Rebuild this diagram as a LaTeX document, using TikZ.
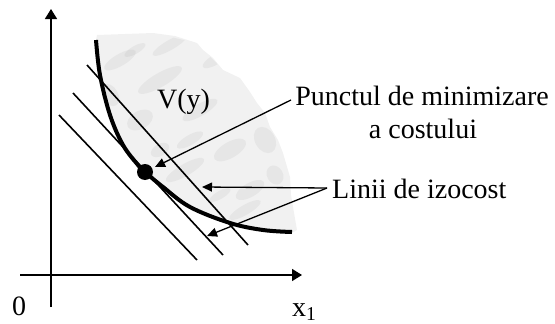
\documentclass[tikz,border=0pt]{standalone}
\usepackage{fontspec}
\setmainfont{Liberation Serif}
\usetikzlibrary{arrows.meta}
\begin{document}
\begin{tikzpicture}[x=1pt,y=-1pt,
  axis/.style={line width=1.5pt,-{Triangle[length=10pt,width=12pt]}},
  iso/.style={line width=1.6pt},
  note/.style={line width=1.3pt,-{Triangle[length=10pt,width=9pt]}},
  lbl/.style={inner sep=0pt,font=\fontsize{28}{33}\selectfont}]
\useasboundingbox (0,0) rectangle (555,324);
% region V(y)
\path[fill=gray!11] (96,40) -- (97,35) -- (125,34) -- (153,33) -- (175,36) -- (197,43) -- (203,50)
  -- (213,58) -- (223,70) -- (240,78) -- (250,92) -- (257,103) -- (265,113) -- (270,127) -- (278,140)
  -- (283,153) -- (290,177) -- (291,195) -- (293,207) -- (297,230) -- (292,233)
  -- (263,230) -- (230,223) -- (190,207) -- (163,187) -- (145,172) -- (138,165) -- (123,145)
  -- (110,115) -- (100,75) -- cycle;
\begin{scope}
\clip (96,40) -- (97,35) -- (153,33) -- (197,43) -- (223,70) -- (240,78) -- (257,103) -- (270,127)
  -- (283,153) -- (290,177) -- (293,207) -- (297,230) -- (292,233) -- (263,230) -- (230,223)
  -- (190,207) -- (163,187) -- (145,172) -- (123,145) -- (110,115) -- (100,75) -- cycle;
\foreach \cx/\cy/\rx/\ry in {120/60/18/6, 160/80/25/7, 140/120/14/9,
  200/110/20/6, 230/150/18/8, 185/170/22/6, 250/190/16/7, 215/60/14/5,
  265/140/10/14, 170/45/20/5, 110/95/8/12, 245/210/18/5, 135/50/12/4, 190/140/15/5,
  220/195/12/4, 275/175/8/10, 160/150/10/6}
  \fill[gray,opacity=0.09,rotate around={30:(\cx,\cy)}] (\cx,\cy) ellipse[x radius=\rx,y radius=\ry];
\end{scope}
% axes
\coordinate (o1) at (51,307);
\coordinate (yt) at (51,9);
\coordinate (o2) at (20,275);
\coordinate (xt) at (302,275);
\draw[axis] (o1) -- (yt);
\draw[axis] (o2) -- (xt);
% isocost lines
\coordinate (a1) at (87,65);  \coordinate (b1) at (248,245);
\coordinate (a2) at (73,93);  \coordinate (b2) at (223,255);
\coordinate (a3) at (59,115); \coordinate (b3) at (197,260);
\draw[iso] (a1) -- (b1);
\draw[iso] (a2) -- (b2);
\draw[iso] (a3) -- (b3);
% isoquant curve
\draw[line width=4pt] plot[smooth,tension=0.6] coordinates {(96,40) (100,75) (110,115) (123,145) (138,165) (145,172) (163,187) (190,207) (230,223) (263,230) (292,232)};
% minimum point
\node[circle,fill=black,inner sep=0pt,minimum size=16pt] (dot) at (145,172) {};
% labels
\node[lbl,anchor=base west] (vy) at (157,108) {V(y)};
\node[lbl,anchor=base] (p1) at (422,105) {Punctul de minimizare};
\node[lbl,anchor=base] (p2) at (423,138) {a costului};
\node[lbl,anchor=base west] (li) at (332,198) {Linii de izocost};
\node[lbl,anchor=base west] (zero) at (12,315) {0};
\node[lbl,anchor=base west] (x1) at (292,316) {x\textsubscript{1}};
% annotation arrows
\coordinate (pa) at (291,100);
\coordinate (pt) at (155,167);
\coordinate (la) at (327,188);
\coordinate (lt1) at (202,187);
\coordinate (lt2) at (207,236);
\draw[note] (pa) -- (pt);
\draw[note] (la) -- (lt1);
\draw[note] (la) -- (lt2);
\end{tikzpicture}
\end{document}
